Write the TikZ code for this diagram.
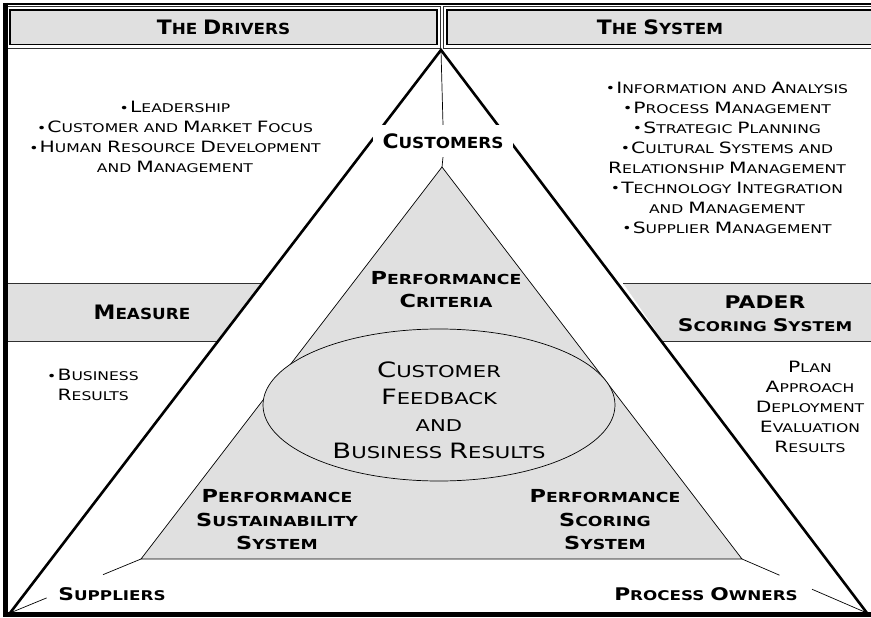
\documentclass[tikz,border=0pt]{standalone}
\usepackage{fontspec}
\setmainfont{DejaVu Sans}
\newfontfamily\lightface{DejaVu Sans}[FakeStretch=1.3]
\newfontfamily\heavyface{DejaVu Sans}[FakeStretch=1.1]
\newfontfamily\heavywide{DejaVu Sans}[FakeStretch=1.25]
\usetikzlibrary{calc,shapes.geometric}
\definecolor{panel}{HTML}{E0E0E0}
\definecolor{rule}{HTML}{303030}
% capitals of the small-caps lettering are set 30% larger than the rest
\makeatletter
\newcommand\K[1]{{\fontsize{\fpeval{1.3*\f@size}}{\f@baselineskip}\selectfont #1}}
\makeatother
\newcommand\bul{\raisebox{0.6pt}{•}\hspace{1.2pt}}

\tikzset{
  txt/.style={font=\lightface\fontsize{12}{20}\selectfont, align=center, inner sep=0pt},
  bigtxt/.style={font=\lightface\fontsize{16.25}{27}\selectfont, align=center, inner sep=0pt},
  hd/.style={font=\heavyface\bfseries\fontsize{15.3}{23}\selectfont, align=center, inner sep=0pt},
  lbl/.style={font=\heavywide\bfseries\fontsize{13.8}{23.5}\selectfont, align=center, inner sep=0pt},
  corner/.style={font=\heavywide\bfseries\fontsize{13.4}{23.5}\selectfont, align=center, inner sep=0pt},
  hdrout/.style={draw=rule, line width=1pt},
  hdrbox/.style={draw=black, line width=1.8pt, fill=panel, inner sep=0pt},
  barline/.style={draw=rule, line width=1pt},
  edgethick/.style={line width=2.6pt, line join=miter},
  edgethin/.style={line width=0.9pt, line join=miter},
  thin/.style={line width=0.7pt},
  frameline/.style={line width=#1, black},
}

\begin{document}
\begin{tikzpicture}[x=1pt,y=-1pt]
\useasboundingbox (0,0) rectangle (871,618);

% corners of the two triangles
\coordinate (apex) at (441,50);
\coordinate (obl) at (10,613);
\coordinate (obr) at (867,613);
\coordinate (iap) at (442,167);
\coordinate (ibl) at (141,559);
\coordinate (ibr) at (742,559);

% header panels
\draw[hdrout] (7,7) rectangle (440,48.5);
\draw[hdrout] (443,7) rectangle (885,48.5);
\node[hdrbox, minimum width=427pt, minimum height=34.5pt] (drvbox) at (223.5,27.25) {};
\node[hdrbox, minimum width=434pt, minimum height=34.5pt, anchor=west] (sysbox) at (446,27.25) {};
\node[hd] (drivers) at (223.5,27.5) {\K{T}HE \K{D}RIVERS};
\node[hd] (system) at (660,27.5) {\K{T}HE \K{S}YSTEM};

% side bands
\fill[panel] (3,283) -- (262,283) -- (218,341) -- (3,341) -- cycle;
\draw[barline] (3,283) -- (262,283);
\draw[barline] (3,341) -- (218,341);
\fill[panel] (623,283) -- (875,283) -- (875,341) -- (663,341) -- cycle;
\draw[barline] (623,283) -- (875,283);
\draw[barline] (663,341) -- (875,341);

% outer triangle: heavy stroke with a thin parallel stroke beside it
\draw[edgethin, xshift=-4pt] (obl) -- (apex) -- (obr);
\draw[edgethick] (obl) -- (apex) -- (obr);

% inner triangle and ellipse
\draw[thin, fill=panel] (iap) -- (ibl) -- (ibr) -- cycle;
\node[ellipse, draw, thin, fill=panel, minimum width=352pt, minimum height=152pt, inner sep=0pt] (core) at (439,405) {};

% corner labels
\node[hd, fill=white, minimum width=140pt, minimum height=32pt] (cust) at (443,141) {\K{C}USTOMERS};
\node[corner] (supp) at (112,594) {\K{S}UPPLIERS};
\node[corner] (owners) at (706,594) {\K{P}ROCESS \K{O}WNERS};

% spokes from the inner triangle to the outer corners
\draw[thin] (apex) -- (cust.north);
\draw[thin] (cust.south) -- (iap);
\coordinate (sl1) at ($(ibl)!0.29!(obl)$);
\coordinate (sl2) at ($(ibl)!0.72!(obl)$);
\coordinate (sr1) at ($(ibr)!0.30!(obr)$);
\coordinate (sr2) at ($(ibr)!0.56!(obr)$);
\draw[thin] (ibl) -- (sl1);
\draw[thin] (sl2) -- (obl);
\draw[thin] (ibr) -- (sr1);
\draw[thin] (sr2) -- (obr);

% labels inside the inner triangle
\node[lbl] (crit) at (446,289.5) {\K{P}ERFORMANCE\\\K{C}RITERIA};
\node[bigtxt] (feedback) at (439,410.5) {\K{C}USTOMER\\\K{F}EEDBACK\\AND\\\K{B}USINESS \K{R}ESULTS};
\node[lbl] (sustain) at (277,520) {\K{P}ERFORMANCE\\\K{S}USTAINABILITY\\\K{S}YSTEM};
\node[lbl] (scoring) at (605,520) {\K{P}ERFORMANCE\\\K{S}CORING\\\K{S}YSTEM};

% band titles
\node[hd] (measure) at (142,312) {\K{M}EASURE};
\node[corner, font=\heavywide\bfseries\fontsize{13.4}{23}\selectfont] (pader) at (765,313.5) {\K{PADER}\\\K{S}CORING \K{S}YSTEM};

% lists
\node[txt] (drvlist) at (175,137) {\bul\K{L}EADERSHIP\\
  \bul\K{C}USTOMER AND \K{M}ARKET \K{F}OCUS\\
  \bul\K{H}UMAN \K{R}ESOURCE \K{D}EVELOPMENT\\
  AND \K{M}ANAGEMENT};
\node[txt] (syslist) at (727,157.5) {\bul\K{I}NFORMATION AND \K{A}NALYSIS\\
  \bul\K{P}ROCESS \K{M}ANAGEMENT\\
  \bul\K{S}TRATEGIC \K{P}LANNING\\
  \bul\K{C}ULTURAL \K{S}YSTEMS AND\\
  \K{R}ELATIONSHIP \K{M}ANAGEMENT\\
  \bul\K{T}ECHNOLOGY \K{I}NTEGRATION\\
  AND \K{M}ANAGEMENT\\
  \bul\K{S}UPPLIER \K{M}ANAGEMENT};
\node[txt, align=left, anchor=west] (busres) at (47,385) {\bul\K{B}USINESS\\\phantom{\bul}\K{R}ESULTS};
\node[txt] (padelist) at (810,407) {\K{P}LAN\\\K{A}PPROACH\\\K{D}EPLOYMENT\\\K{E}VALUATION\\\K{R}ESULTS};

% outer frame
\draw[frameline=2pt] (3,4) -- (875,4);
\draw[frameline=5pt] (5.5,3) -- (5.5,617);
\draw[frameline=4.5pt] (3,614.5) -- (875,614.5);
\end{tikzpicture}
\end{document}
